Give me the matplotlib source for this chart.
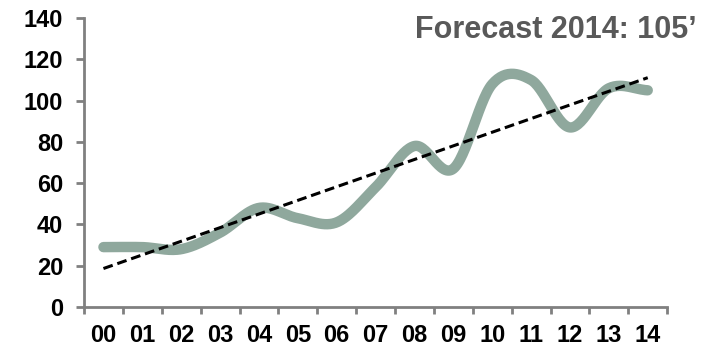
import numpy as np
import matplotlib
matplotlib.use("Agg")
import matplotlib.pyplot as plt

years = ["00", "01", "02", "03", "04", "05", "06", "07", "08", "09", "10", "11", "12", "13", "14"]
values = [29, 29, 28, 36, 48, 43, 41, 58, 78, 67, 108, 110, 87, 106, 105]
y_ticks = [0, 20, 40, 60, 80, 100, 120, 140]
annotation = "Forecast 2014: 105\u2019"

plt.rcParams['font.family'] = ['Liberation Sans', 'DejaVu Sans']

fig = plt.figure(figsize=(7.09, 3.48), dpi=100)
ax = fig.add_axes([0.1185, 0.118, 0.8225, 0.830])

x = np.arange(len(values), dtype=float)
y = np.array(values, dtype=float)

# Catmull-Rom style smoothing (like a spreadsheet smoothed line)
xs, ys = [], []
n = len(x)
for i in range(n - 1):
    p0 = y[i - 1] if i > 0 else y[i]
    p1 = y[i]
    p2 = y[i + 1]
    p3 = y[i + 2] if i + 2 < n else y[i + 1]
    m1 = (p2 - p0) / (2 if i > 0 else 1)
    m2 = (p3 - p1) / (2 if i + 2 < n else 1)
    t = np.linspace(0, 1, 30)
    h00 = 2 * t**3 - 3 * t**2 + 1
    h10 = t**3 - 2 * t**2 + t
    h01 = -2 * t**3 + 3 * t**2
    h11 = t**3 - t**2
    seg = h00 * p1 + h10 * m1 + h01 * p2 + h11 * m2
    xs.extend(x[i] + t)
    ys.extend(seg)

ax.plot(xs, ys, color="#8fa89d", lw=7.5, solid_capstyle="round", zorder=2)

coef = np.polyfit(x, y, 1)
ax.plot(x, np.polyval(coef, x), color="black", lw=2.2, ls=(0, (3.2, 1.6)), zorder=3)

ax.set_xlim(-0.5, len(values) - 0.5)
ax.set_ylim(0, 140)
ax.set_yticks(y_ticks)
ax.set_yticklabels([str(v) for v in y_ticks], fontsize=17, fontweight="bold")

ax.set_xticks(np.arange(-0.5, len(values), 1.0))
ax.set_xticklabels([])
ax.set_xticks(x, minor=True)
ax.set_xticklabels(years, minor=True, fontsize=17, fontweight="bold")
ax.tick_params(axis="x", which="major", length=5, width=2, color="#808080", direction="out")
ax.tick_params(axis="x", which="minor", length=0, pad=12.5)
ax.tick_params(axis="y", length=6, width=2, color="#808080", direction="out", pad=9)

for s in ["top", "right"]:
    ax.spines[s].set_visible(False)
for s in ["left", "bottom"]:
    ax.spines[s].set_color("#808080")
    ax.spines[s].set_linewidth(2)

fig.text(0.983, 0.913, annotation, ha="right", va="center", fontsize=22,
         fontweight="bold", color="#595959")

fig.savefig("out.png", dpi=100)
